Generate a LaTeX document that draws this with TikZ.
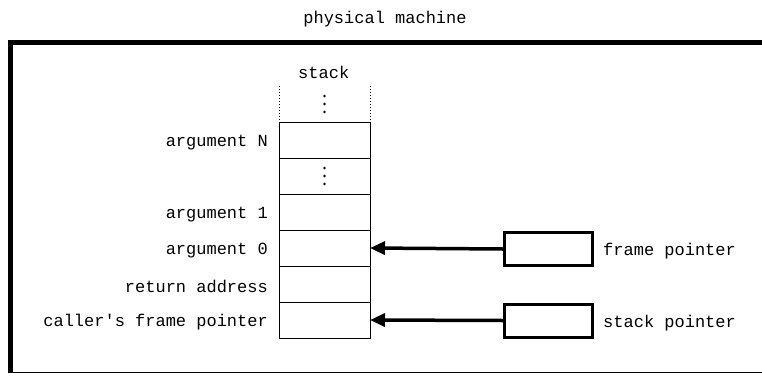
\documentclass[tikz,border=0pt]{standalone}
\usepackage{fontspec}
\setmonofont{Liberation Mono}
\usetikzlibrary{positioning}
\usetikzlibrary{arrows.meta}

\tikzset{
  cell/.style={draw,line width=1pt,minimum width=91pt,minimum height=36pt,inner sep=0pt,outer sep=0pt},
  ptrbox/.style={draw,line width=3pt,minimum width=88pt,minimum height=33pt,inner sep=0pt},
  lbl/.style={font=\ttfamily\fontsize{17}{19}\selectfont,inner sep=0pt},
  ptr/.style={line width=3.5pt,-{Triangle[length=15pt,width=13pt]}},
}

\begin{document}
\begin{tikzpicture}[x=1pt,y=-1pt]
\useasboundingbox (0,0) rectangle (762,375);
\clip (0,0) rectangle (762,375);

% frame of the machine
\draw[line width=5pt] (10.5,373) -- (10.5,42.5) -- (780,42.5);
\draw[line width=1.5pt] (8,372.5) -- (780,372.5);
\node[lbl] (title) at (385,19) {physical machine};

% the stack
\node[cell] (argn) at (324.5,140) {};
\node[cell,below=0pt of argn] (gap) {};
\node[cell,below=0pt of gap] (arg1) {};
\node[cell,below=0pt of arg1] (arg0) {};
\node[cell,below=0pt of arg0] (ret) {};
\node[cell,below=0pt of ret] (callerfp) {};

\coordinate[above=36pt of argn.north west] (tl);
\coordinate[above=36pt of argn.north east] (tr);
\coordinate[above=18pt of argn.north] (topdots);
\draw[dotted,line width=1pt] (tl) -- (argn.north west);
\draw[dotted,line width=1pt] (tr) -- (argn.north east);
\node[lbl,above=8pt of tl,anchor=base west,xshift=19pt] (stacklbl) {stack};

\foreach \c in {topdots,gap}
  \foreach \d in {-8,0,8}
    \fill ([yshift=\d pt]\c.center) circle (1.4pt);

\node[lbl,left=11pt of argn,yshift=-2.5pt] {argument N};
\node[lbl,left=11pt of arg1,yshift=-2.5pt] {argument 1};
\node[lbl,left=11pt of arg0,yshift=-2.5pt] {argument 0};
\node[lbl,left=11pt of ret,yshift=-2.5pt] {return address};
\node[lbl,left=11pt of callerfp,yshift=-2.5pt] {caller's frame pointer};

% pointers
\node[ptrbox] (fp) at (548.5,249) {};
\node[ptrbox] (sp) at (548.5,320.5) {};
\node[lbl,right=9pt of fp,yshift=-2.5pt] {frame pointer};
\node[lbl,right=9pt of sp,yshift=-2.5pt] {stack pointer};

\draw[ptr] (fp.west) -- (arg0.east);
\draw[ptr] (sp.west) -- (callerfp.east);
\end{tikzpicture}
\end{document}
